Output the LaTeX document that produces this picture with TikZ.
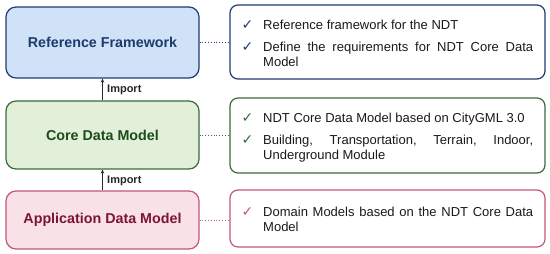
\documentclass[tikz,border=0pt]{standalone}
\usepackage{fontspec}
\setmainfont{Liberation Sans}
\newfontfamily\symfont{DejaVu Sans}
\usetikzlibrary{arrows.meta}
\hyphenpenalty=10000
\exhyphenpenalty=10000
\definecolor{bfill}{HTML}{CFE2F7}
\definecolor{bline}{HTML}{1F3B73}
\definecolor{btext}{HTML}{1E3A6E}
\definecolor{gfill}{HTML}{E2F0DA}
\definecolor{gline}{HTML}{3A6B3A}
\definecolor{gtext}{HTML}{1B4D1B}
\definecolor{pfill}{HTML}{F9E1E8}
\definecolor{pline}{HTML}{C4577A}
\definecolor{ptext}{HTML}{7B1536}
\definecolor{bodytext}{HTML}{1A1A1A}
\begin{document}
\begin{tikzpicture}[x=1pt,y=-1pt,
  leftbox/.style={draw, line width=1.2pt, rounded corners=10pt, minimum width=193pt, inner sep=0pt,
    font=\fontsize{14.3}{16}\selectfont\bfseries},
  rightbox/.style={draw, fill=white, line width=1.2pt, rounded corners=8pt, minimum width=315pt, inner sep=0pt},
  item/.style={anchor=base west, inner sep=0pt, text width=270pt, align=justify, text=bodytext,
    font=\fontsize{13}{15.5}\selectfont},
  chk/.style={anchor=base, inner sep=0pt, font=\symfont\fontsize{14}{16}\selectfont},
  imp/.style={font=\fontsize{11}{13}\selectfont\bfseries, text=black!85, anchor=west, inner sep=0pt},
  link/.style={line width=0.8pt, dotted},
  up/.style={line width=1pt, black!85, -{Stealth[length=4pt,width=3.5pt]}}
]
\useasboundingbox (0,0) rectangle (550,254);

% left boxes
\node[leftbox, fill=bfill, draw=bline, text=btext, minimum height=71pt] (ref) at (102.5,42.5) {Reference Framework};
\node[leftbox, fill=gfill, draw=gline, text=gtext, minimum height=68pt] (core) at (102.5,135) {Core Data Model};
\node[leftbox, fill=pfill, draw=pline, text=ptext, minimum height=58pt] (app) at (102.5,220) {Application Data Model};

% right boxes
\node[rightbox, draw=bline, minimum height=74pt] (rref) at (387.5,42) {};
\node[rightbox, draw=gline, minimum height=75pt] (rcore) at (387.5,135.5) {};
\node[rightbox, draw=pline, minimum height=57pt] (rapp) at (387.5,218.5) {};

% items
\node[chk, text=bline] (c1) at (247.5,29.5) {✓};
\node[item] (t1) at (263,29.5) {Reference framework for the NDT};
\node[chk, text=bline] (c2) at (247.5,51.5) {✓};
\node[item] (t2) at (263,51.5) {Define the requirements for NDT Core Data Model};

\node[chk, text=gline] (c3) at (247.5,122.5) {✓};
\node[item] (t3) at (263,122.5) {NDT Core Data Model based on CityGML 3.0};
\node[chk, text=gline] (c4) at (247.5,144.5) {✓};
\node[item] (t4) at (263,144.5) {Building, Transportation, Terrain, Indoor, Underground Module};

\node[chk, text=pline] (c5) at (247.5,216.5) {✓};
\node[item] (t5) at (263,216.5) {Domain Models based on the NDT Core Data Model};

% dotted links
\draw[link, bline] (ref.east) -- (ref.east -| rref.west);
\draw[link, gline] (core.east) -- (core.east -| rcore.west);
\draw[link, pline] (app.east) -- (app.east -| rapp.west);

% import arrows
\draw[up] (core.north) -- (ref.south);
\draw[up] (app.north) -- (core.south);
\node[imp] (i1) at (107,90) {Import};
\node[imp] (i2) at (107,180.5) {Import};
\end{tikzpicture}
\end{document}
